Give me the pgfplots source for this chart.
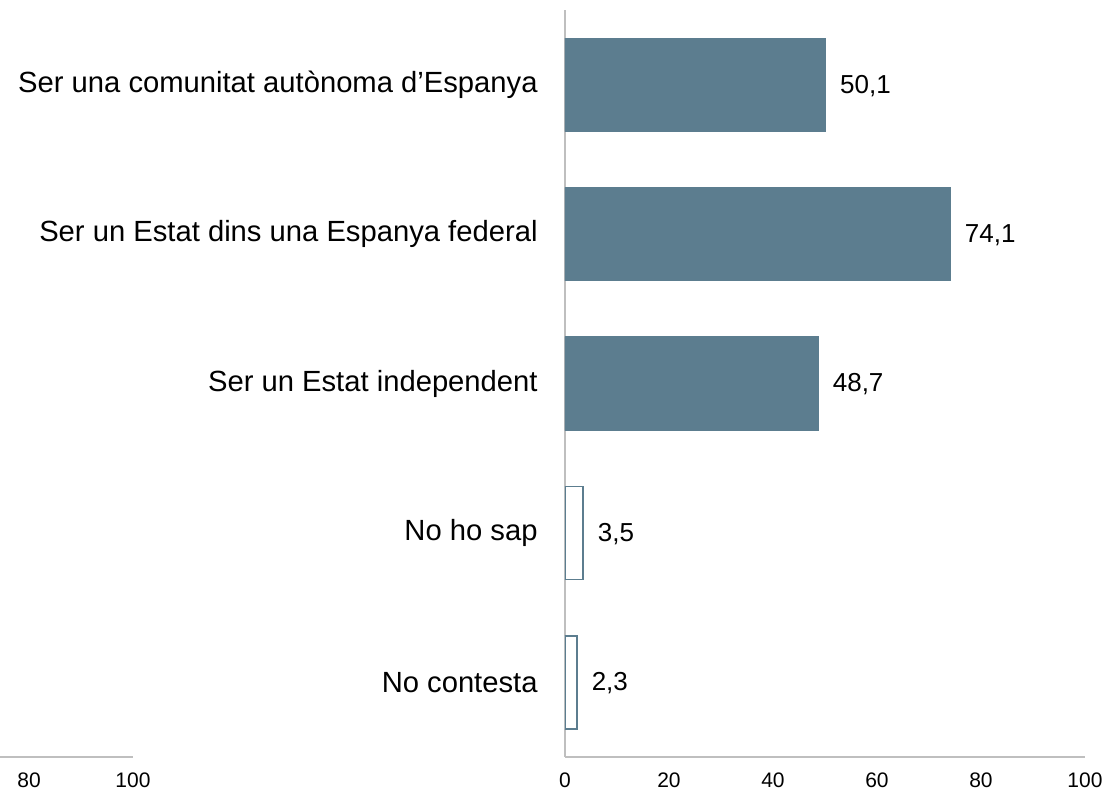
\documentclass[border=0pt]{standalone}
\usepackage{pgfplots}
\pgfplotsset{compat=1.18}
\usepackage{fontspec}
\setmainfont{Liberation Sans}
\definecolor{barcol}{HTML}{5C7D8F}
\definecolor{axcol}{HTML}{BFBFBF}
\begin{document}
\begin{tikzpicture}
\useasboundingbox (0,-396.5pt) rectangle (555pt,0);
% main chart
\begin{axis}[
  at={(282.5pt,-378.5pt)}, anchor=south west,
  scale only axis, width=260pt, height=373.5pt,
  xbar, bar width=46.5pt, bar shift=0pt,
  xmin=0, xmax=100, ymin=-0.5, ymax=4.5, y dir=reverse,
  axis x line=bottom, axis y line=left,
  axis line style={-, draw=axcol, line width=1pt},
  xtick={0,20,40,60,80,100}, ytick={0,1,2,3,4},
  yticklabels={Ser una comunitat autònoma d’Espanya, Ser un Estat dins una Espanya federal, Ser un Estat independent, No ho sap, No contesta},
  major tick length=0pt,
  tick label style={font=\fontsize{10.5}{12}\selectfont},
  yticklabel style={font=\fontsize{14.6}{17}\selectfont, inner sep=0pt, xshift=-13.5pt},
  xticklabel style={inner sep=0pt, yshift=-7.5pt},
  /pgf/number format/assume math mode=true,
  nodes near coords,
  nodes near coords style={font=\fontsize{13}{15}\selectfont, anchor=west, inner sep=0pt, xshift=7pt, yshift=-0.5pt,
    /pgf/number format/.cd, use comma, fixed, fixed zerofill, precision=1, assume math mode=true},
]
\addplot[draw=barcol, fill=barcol, line width=0.6pt] coordinates {(50.1,0) (74.1,1) (48.7,2)};
\addplot[draw=barcol, fill=white, line width=0.8pt] coordinates {(3.5,3) (2.3,4)};
\end{axis}
% clipped remnant of a neighbouring axis
\begin{axis}[
  at={(0pt,-378.5pt)}, anchor=south west,
  scale only axis, width=66.5pt, height=373.5pt,
  xmin=74.42, xmax=100, ymin=0, ymax=1,
  axis x line=bottom, axis y line=none,
  axis line style={-, draw=axcol, line width=1pt},
  xtick={80,100}, major tick length=0pt,
  tick label style={font=\fontsize{10.5}{12}\selectfont},
  xticklabel style={inner sep=0pt, yshift=-7.5pt},
  /pgf/number format/assume math mode=true,
]
\end{axis}
\end{tikzpicture}
\end{document}
